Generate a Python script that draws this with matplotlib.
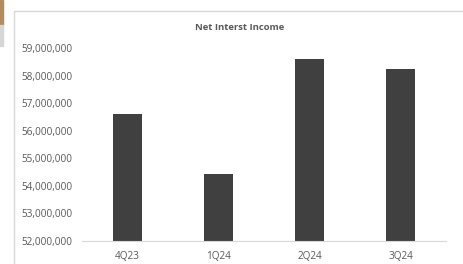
"""
Net interest income by quarter, Excel-style column chart
"""
import matplotlib.pyplot as plt
from matplotlib.patches import Rectangle
from matplotlib.ticker import FuncFormatter

quarters = ["4Q23", "1Q24", "2Q24", "3Q24"]
net_interest_income = [56_620_000, 54_440_000, 58_600_000, 58_240_000]

fig = plt.figure(figsize=(4.64, 2.64), dpi=100)
plt.rcParams["font.family"] = ["Open Sans", "DejaVu Sans"]

# chart frame and the little strip at the left edge of the screenshot
fig.patches.append(Rectangle((14 / 464, -0.01), 1.0, 1 - 11 / 264 + 0.01,
                             transform=fig.transFigure, fill=False,
                             edgecolor="#d9d9d9", linewidth=1.0))
fig.patches.append(Rectangle((0, 1 - 25 / 264), 3 / 464, 25 / 264,
                             transform=fig.transFigure, color="#b48c5c"))
fig.patches.append(Rectangle((0, 1 - 46 / 264), 3 / 464, 21 / 264,
                             transform=fig.transFigure, color="#d6d6d6"))

ax = fig.add_axes([82 / 464, 1 - 241 / 264, 364 / 464, 193 / 264])

x = range(len(quarters))
ax.bar(x, net_interest_income, width=0.32, color="#404040", zorder=2)

ax.set_ylim(52_000_000, 59_000_000)
ax.set_xlim(-0.5, len(quarters) - 0.5)
ax.set_yticks(range(52_000_000, 59_000_001, 1_000_000))
ax.yaxis.set_major_formatter(FuncFormatter(lambda v, p: f"{v:,.0f}"))
ax.set_xticks(list(x))
ax.set_xticklabels(quarters)

for side in ["top", "right", "left"]:
    ax.spines[side].set_visible(False)
ax.spines["bottom"].set_color("#d9d9d9")
ax.tick_params(axis="both", length=0, labelsize=7.2, colors="#595959")
ax.tick_params(axis="y", pad=7)
ax.tick_params(axis="x", pad=7)

fig.text(240 / 464, 1 - 27 / 264, "Net Interst Income", ha="center",
         va="center", fontsize=6.8, fontweight="bold", color="#595959")

plt.savefig("out.png", dpi=100)
